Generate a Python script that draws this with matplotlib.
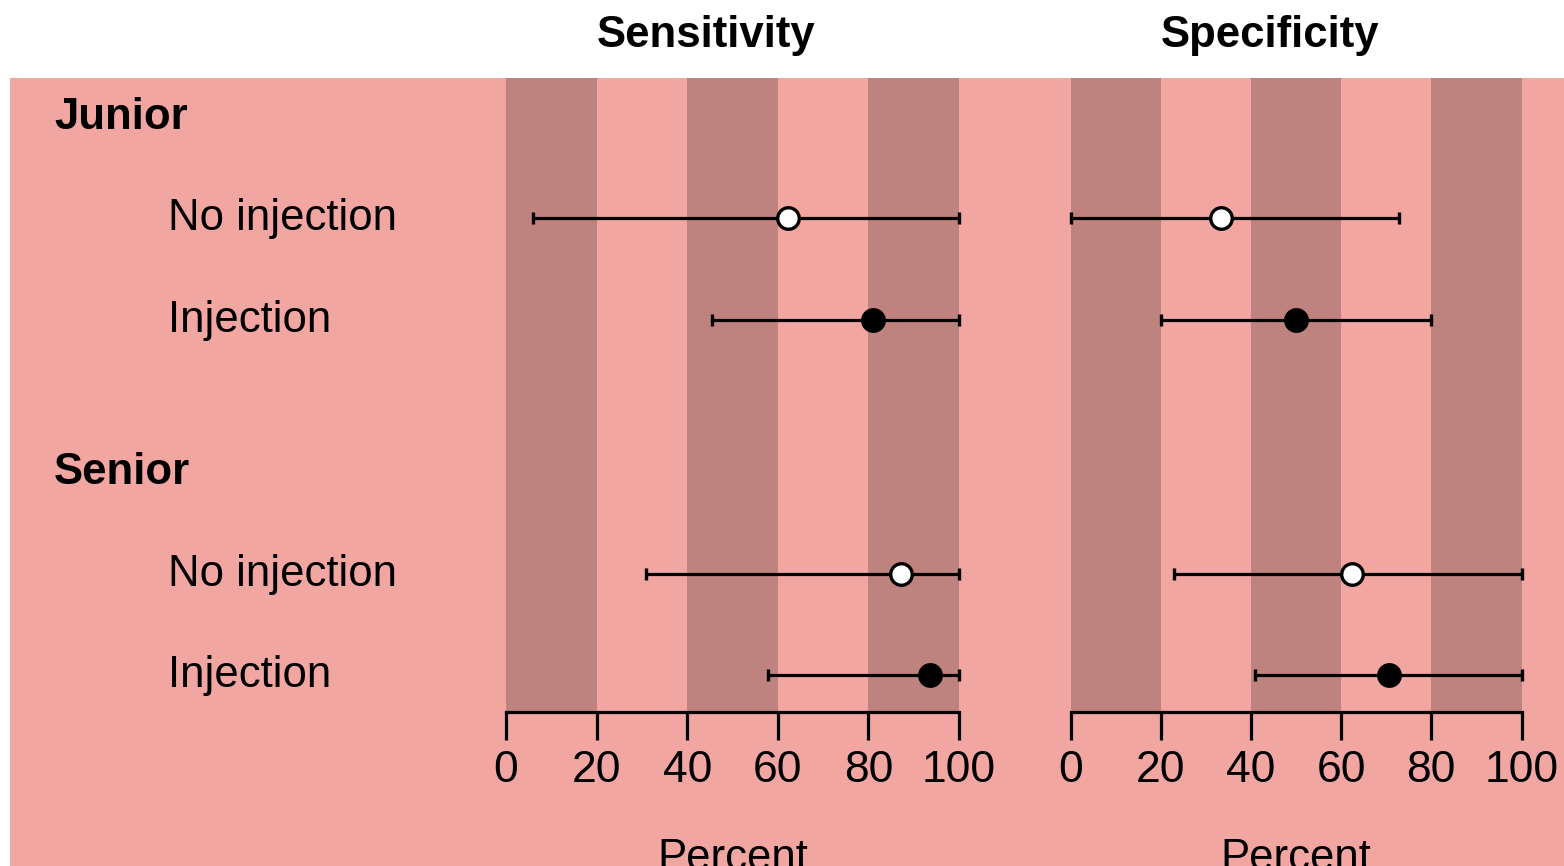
import numpy as np
import matplotlib
matplotlib.use("Agg")
import matplotlib.pyplot as plt
from matplotlib.patches import Rectangle
from matplotlib.transforms import blended_transform_factory, offset_copy

plt.rcParams["font.family"] = ["Liberation Sans", "DejaVu Sans"]

# ── data ──────────────────────────────────────────────────────────────────────
groups     = ["Junior", "Senior"]
conditions = ["No injection", "Injection"]
panels     = ["Sensitivity", "Specificity"]

# order: Junior/No inj, Junior/Inj, Senior/No inj, Senior/Inj
sens_est = [62.3, 81.0, 87.3, 93.6]
sens_lo  = [6.0, 45.5, 31.0, 57.8]
sens_hi  = [100, 100, 100, 100]

spec_est = [33.3, 50.0, 62.4, 70.7]
spec_lo  = [0.0, 20.0, 23.0, 41.0]
spec_hi  = [72.8, 80.0, 100, 100]

xticks = [0, 20, 40, 60, 80, 100]

# ── layout ────────────────────────────────────────────────────────────────────
W, H = 1564, 866
PINK, DARK = "#F1A6A1", "#BF837F"

group_y = [0.0, 3.5]
row_y   = [1.0, 2.0, 4.5, 5.5]
filled  = [False, True, False, True]

fig = plt.figure(figsize=(W / 100, H / 100), dpi=100, facecolor="white")
fig.patches.append(Rectangle((10 / W, 0), 1, (H - 78) / H, transform=fig.transFigure,
                             facecolor=PINK, edgecolor="none", zorder=-5))

ax_pos = [(506, 959), (1070.5, 1521.5)]
data = [(sens_est, sens_lo, sens_hi), (spec_est, spec_lo, spec_hi)]

axes = []
for (x0, x1), (est, lo, hi), title in zip(ax_pos, data, panels):
    ax = fig.add_axes([x0 / W, (H - 712) / H, (x1 - x0) / W, (712 - 78) / H])
    ax.set_facecolor("none")
    ax.set_xlim(0, 100)
    ax.set_ylim(5.862, -0.384)
    for a, b in zip(xticks[0::2], xticks[1::2]):
        ax.axvspan(a, b, color=DARK, lw=0, zorder=0)
    for i in range(4):
        ax.errorbar(est[i], row_y[i], xerr=[[est[i] - lo[i]], [hi[i] - est[i]]],
                    fmt="o", color="black", ecolor="black", elinewidth=2.3,
                    capsize=4, capthick=1.5, ms=15.5, mew=2.4,
                    mfc="black" if filled[i] else "white", mec="black",
                    clip_on=False, zorder=3)
    for s in ["top", "left", "right"]:
        ax.spines[s].set_visible(False)
    ax.spines["bottom"].set_linewidth(2.3)
    ax.set_yticks([])
    ax.set_xticks(xticks)
    ax.tick_params(axis="x", direction="out", length=20, width=2.3, pad=7,
                   labelsize=32)
    fig.text((x0 + x1) / 2 / W - 26 / W, 1 - 47 / H, title, ha="center",
             va="baseline", fontsize=31.5, fontweight="bold")
    fig.text((x0 + x1) / 2 / W, 1 - 838 / H, "Percent", ha="center", va="top",
             fontsize=31.5)
    axes.append(ax)

# row labels
tr = blended_transform_factory(fig.transFigure, axes[0].transData)
tr = offset_copy(tr, fig=fig, x=0, y=4, units="dots")
for g, gy in zip(groups, group_y):
    axes[0].text(54 / W, gy, g, transform=tr, ha="left", va="center_baseline",
                 fontsize=31.5, fontweight="bold")
for i, ry in enumerate(row_y):
    axes[0].text(168 / W, ry, conditions[i % 2], transform=tr, ha="left",
                 va="center_baseline", fontsize=31.5)

plt.savefig("out.png", dpi=100, facecolor="white")
